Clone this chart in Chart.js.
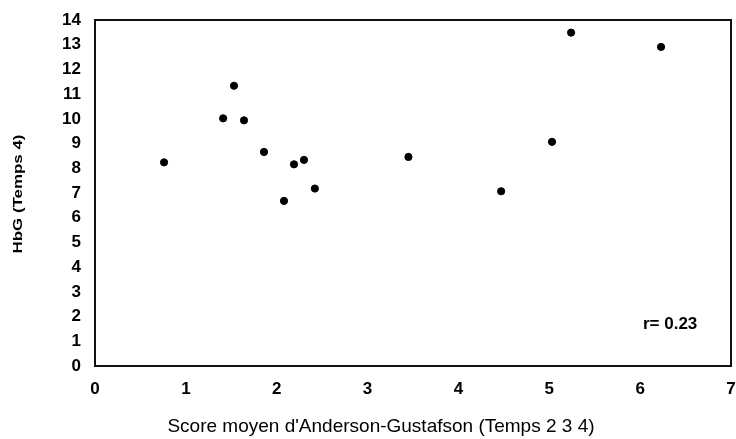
<!DOCTYPE html>
<html>
<head>
<meta charset="utf-8">
<script src="https://cdn.jsdelivr.net/npm/chart.js@4"></script>
<style>
html,body{margin:0;padding:0;background:#fff;}
#wrap{width:736px;height:439px;position:relative;}
</style>
</head>
<body>
<div id="wrap"><canvas id="c" width="736" height="439"></canvas></div>
<script>
const scoreAG = [0.76, 1.41, 1.53, 1.64, 1.86, 2.08, 2.19, 2.30, 2.42, 3.45, 4.47, 5.03, 5.24, 6.23];
const hbg     = [8.24, 10.02, 11.34, 9.94, 8.66, 6.68, 8.16, 8.34, 7.18, 8.46, 7.07, 9.07, 13.49, 12.91];
const xTicks = [0, 1, 2, 3, 4, 5, 6, 7];
const yTicks = [0, 1, 2, 3, 4, 5, 6, 7, 8, 9, 10, 11, 12, 13, 14];
const xTitle = "Score moyen d'Anderson-Gustafson (Temps 2 3 4)";
const yTitle = "HbG (Temps 4)";
const rLabel = "r= 0.23";
const rPos = {x: 6.33, y: 1.7};

const points = scoreAG.map((v, i) => ({x: v, y: hbg[i]}));
const FONT = '"Liberation Sans", Arial, sans-serif';

const decor = {
  id: 'decor',
  afterDraw(chart) {
    const ctx = chart.ctx;
    const a = chart.chartArea;
    ctx.save();
    ctx.strokeStyle = '#111';
    ctx.lineWidth = 2;
    ctx.strokeRect(a.left, a.top, a.right - a.left, a.bottom - a.top);
    // x title
    ctx.fillStyle = '#000';
    ctx.font = '19px ' + FONT;
    ctx.textAlign = 'center';
    ctx.textBaseline = 'middle';
    ctx.fillText(xTitle, 381, 427);
    // y title
    ctx.save();
    ctx.translate(18, 194);
    ctx.rotate(-Math.PI / 2);
    ctx.scale(1.3, 1);
    ctx.font = 'bold 13px ' + FONT;
    ctx.fillText(yTitle, 0, 0);
    ctx.restore();
    // r label
    const xs = chart.scales.x, ys = chart.scales.y;
    ctx.font = 'bold 17px ' + FONT;
    ctx.fillText(rLabel, xs.getPixelForValue(rPos.x), ys.getPixelForValue(rPos.y));
    ctx.restore();
  }
};

new Chart(document.getElementById('c'), {
  type: 'scatter',
  data: {
    datasets: [{
      data: points,
      backgroundColor: '#000',
      borderColor: '#000',
      pointRadius: 3.6,
      pointHoverRadius: 3.6
    }]
  },
  options: {
    responsive: false,
    animation: false,
    events: [],
    layout: {padding: {left: 0, right: 5, top: 20, bottom: 0}},
    plugins: {legend: {display: false}, tooltip: {enabled: false}},
    scales: {
      x: {
        type: 'linear', min: 0, max: 7,
        afterBuildTicks: s => { s.ticks = xTicks.map(v => ({value: v})); },
        afterFit: s => { s.height = 73; s.paddingLeft = 0; s.paddingRight = 0; },
        grid: {display: false, drawTicks: false, tickLength: 0},
        border: {display: false},
        ticks: {padding: 13, color: '#000', font: {family: FONT, size: 17, weight: 'bold'}}
      },
      y: {
        type: 'linear', min: 0, max: 14,
        afterBuildTicks: s => { s.ticks = yTicks.map(v => ({value: v})); },
        afterFit: s => { s.width = 95; s.paddingTop = 0; s.paddingBottom = 0; },
        grid: {display: false, drawTicks: false, tickLength: 0},
        border: {display: false},
        ticks: {padding: 14, color: '#000', font: {family: FONT, size: 17, weight: 'bold'}}
      }
    }
  },
  plugins: [decor]
});
</script>
</body>
</html>
